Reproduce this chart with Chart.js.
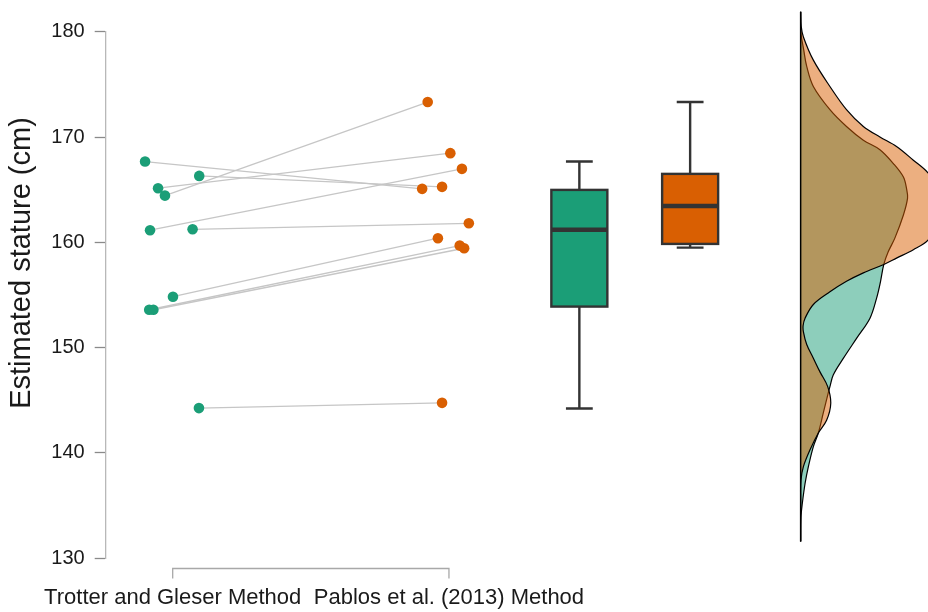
<!DOCTYPE html>
<html>
<head>
<meta charset="utf-8">
<script src="https://cdn.jsdelivr.net/npm/chart.js@4.4.0/dist/chart.umd.min.js"></script>
<style>
  html, body { margin: 0; padding: 0; background: #fff; }
  #wrap { width: 928px; height: 612px; }
</style>
</head>
<body>
<div id="wrap"><canvas id="chart"></canvas></div>
<script>
// groups and axis
const groups = ["Trotter and Gleser Method", "Pablos et al. (2013) Method"];
const yTicks = [130, 140, 150, 160, 170, 180];
const yTitle = "Estimated stature (cm)";

// paired estimates (same individual, index by index) + jittered x
const trotter  = [167.67, 166.31, 165.14, 164.44, 161.15, 161.24, 154.84, 153.60, 153.60, 144.26];
const trotterX = [0.900, 1.096, 0.947, 0.972, 0.918, 1.072, 1.001, 0.915, 0.930, 1.095];
const pablos   = [165.08, 165.27, 168.47, 173.32, 166.98, 161.81, 160.39, 159.69, 159.44, 144.76];
const pablosX  = [1.903, 1.975, 2.005, 1.923, 2.047, 2.072, 1.960, 2.039, 2.055, 1.975];

// boxplot stats: [lower whisker, q1, median, q3, upper whisker]
const trotterBox = [144.23, 153.90, 161.20, 164.98, 167.67];
const pablosBox  = [159.50, 159.85, 163.46, 166.50, 173.32];

// half densities (stature, density width in x units)
const trotterDensY = [181.9, 179.9, 178.3, 176.7, 174.8, 172.6, 171.0, 169.7, 168.8, 167.5, 166.2, 165.0, 164.2, 162.6, 160.4, 159.1, 157.9, 156.0, 154.7, 152.8, 150.9, 149.0, 147.4, 146.3, 145.7, 143.8, 141.9, 140.6, 138.7, 137.1, 135.2, 133.9, 131.6];
const trotterDens  = [0, 0.001, 0.011, 0.022, 0.046, 0.106, 0.166, 0.227, 0.287, 0.335, 0.372, 0.384, 0.387, 0.372, 0.341, 0.317, 0.301, 0.287, 0.275, 0.251, 0.203, 0.155, 0.118, 0.106, 0.100, 0.082, 0.064, 0.046, 0.028, 0.016, 0.006, 0.001, 0];
const pablosDensY  = [181.9, 180.5, 179.5, 177.3, 174.8, 172.6, 171.0, 170.0, 169.1, 167.8, 166.6, 165.4, 164.0, 162.6, 161.2, 160.2, 159.3, 158.5, 157.9, 157.1, 156.3, 155.3, 154.1, 152.8, 152.1, 151.5, 150.3, 149.0, 147.7, 146.3, 144.7, 143.1, 141.9, 140.3, 138.7, 137.4, 135.5, 131.6];
const pablosDens   = [0, 0.002, 0.010, 0.046, 0.106, 0.166, 0.227, 0.287, 0.347, 0.408, 0.461, 0.489, 0.507, 0.499, 0.478, 0.461, 0.408, 0.347, 0.301, 0.227, 0.166, 0.106, 0.046, 0.016, 0.009, 0.010, 0.022, 0.046, 0.070, 0.098, 0.109, 0.094, 0.064, 0.034, 0.010, 0.001, 0, 0];

const green = "#1b9e77";
const orange = "#d95f02";
const font = "'Liberation Sans', Arial, sans-serif";

const boxCenters = [2.472, 2.873];
const boxWidth = 0.2027;
const capWidth = 0.097;
const densBase = 3.273;

const datasets = [];

// connecting lines
trotter.forEach((v, i) => {
    datasets.push({
        type: 'line',
        data: [{x: trotterX[i], y: v}, {x: pablosX[i], y: pablos[i]}],
        borderColor: "#c6c6c6",
        borderWidth: 1.3,
        pointRadius: 0,
        order: 20
    });
});

datasets.push({
    data: trotter.map((v, i) => ({x: trotterX[i], y: v})),
    backgroundColor: green,
    borderWidth: 0,
    pointRadius: 5.3,
    order: 5
});
datasets.push({
    data: pablos.map((v, i) => ({x: pablosX[i], y: v})),
    backgroundColor: orange,
    borderWidth: 0,
    pointRadius: 5.3,
    order: 5
});

// densities: green below, orange on top
datasets.push({
    type: 'line',
    indexAxis: 'y',
    data: trotterDensY.map((y, i) => ({x: densBase + trotterDens[i], y})),
    borderColor: "#000",
    borderWidth: 1.2,
    backgroundColor: "rgba(27,158,119,0.5)",
    fill: {value: densBase},
    pointRadius: 0,
    tension: 0.35,
    clip: false,
    order: 12
});
datasets.push({
    type: 'line',
    indexAxis: 'y',
    data: pablosDensY.map((y, i) => ({x: densBase + pablosDens[i], y})),
    borderColor: "#000",
    borderWidth: 1.2,
    backgroundColor: "rgba(217,95,2,0.5)",
    fill: {value: densBase},
    pointRadius: 0,
    tension: 0.35,
    clip: false,
    order: 11
});
datasets.push({
    type: 'line',
    data: [{x: densBase, y: trotterDensY[0]}, {x: densBase, y: trotterDensY[trotterDensY.length - 1]}],
    borderColor: "#000",
    borderWidth: 1.5,
    pointRadius: 0,
    clip: false,
    order: 10
});

const boxPlugin = {
    id: 'boxes',
    afterDatasetsDraw(chart) {
        const {ctx, scales: {x, y}} = chart;
        ctx.save();
        [trotterBox, pablosBox].forEach((s, i) => {
            const c = boxCenters[i];
            const cx = x.getPixelForValue(c);
            const l = x.getPixelForValue(c - boxWidth / 2);
            const r = x.getPixelForValue(c + boxWidth / 2);
            const cl = x.getPixelForValue(c - capWidth / 2);
            const cr = x.getPixelForValue(c + capWidth / 2);
            ctx.strokeStyle = "#333";
            ctx.lineWidth = 2.4;
            ctx.beginPath();
            ctx.moveTo(cx, y.getPixelForValue(s[0]));
            ctx.lineTo(cx, y.getPixelForValue(s[4]));
            ctx.moveTo(cl, y.getPixelForValue(s[0]));
            ctx.lineTo(cr, y.getPixelForValue(s[0]));
            ctx.moveTo(cl, y.getPixelForValue(s[4]));
            ctx.lineTo(cr, y.getPixelForValue(s[4]));
            ctx.stroke();
            const top = y.getPixelForValue(s[3]);
            const bot = y.getPixelForValue(s[1]);
            ctx.fillStyle = i === 0 ? green : orange;
            ctx.fillRect(l, top, r - l, bot - top);
            ctx.strokeRect(l, top, r - l, bot - top);
            ctx.lineWidth = 4.5;
            ctx.beginPath();
            ctx.moveTo(l, y.getPixelForValue(s[2]));
            ctx.lineTo(r, y.getPixelForValue(s[2]));
            ctx.stroke();
        });
        ctx.restore();
    },
    afterDraw(chart) {
        const {ctx, scales: {x, y}} = chart;
        ctx.save();
        // x axis bracket
        const x1 = x.getPixelForValue(1);
        const x2 = x.getPixelForValue(2);
        const by = 568.5;
        ctx.strokeStyle = "#a8a8a8";
        ctx.lineWidth = 1.3;
        ctx.beginPath();
        ctx.moveTo(x1, by + 10);
        ctx.lineTo(x1, by);
        ctx.lineTo(x2, by);
        ctx.lineTo(x2, by + 10);
        ctx.stroke();
        ctx.fillStyle = "#1a1a1a";
        ctx.font = "22px " + font;
        ctx.textAlign = "center";
        ctx.textBaseline = "middle";
        ctx.fillText(groups[0], x1, 598);
        ctx.fillText(groups[1], x2, 598);
        // y title
        ctx.translate(22, 263);
        ctx.rotate(-Math.PI / 2);
        ctx.font = "29px " + font;
        ctx.fillText(yTitle, 0, 0);
        ctx.restore();
    }
};

new Chart(document.getElementById("chart"), {
    type: 'scatter',
    data: {datasets},
    options: {
        responsive: true,
        maintainAspectRatio: false,
        animation: false,
        layout: {autoPadding: false, padding: {top: 31.7, bottom: 53.7, left: 0, right: 0}},
        plugins: {legend: {display: false}, tooltip: {enabled: false}},
        scales: {
            x: {type: 'linear', display: false, min: 0.7575, max: 3.734},
            y: {
                min: yTicks[0],
                max: yTicks[yTicks.length - 1],
                afterBuildTicks: (s) => { s.ticks = yTicks.map(v => ({value: v})); },
                afterFit: (s) => { s.width = 105.7; },
                ticks: {color: "#1a1a1a", padding: 10, font: {size: 20, family: font}},
                grid: {drawOnChartArea: false, tickLength: 11, tickColor: "#8a8a8a", tickWidth: 1.3},
                border: {color: "#b8b8b8", width: 1.3}
            }
        }
    },
    plugins: [boxPlugin]
});
</script>
</body>
</html>
